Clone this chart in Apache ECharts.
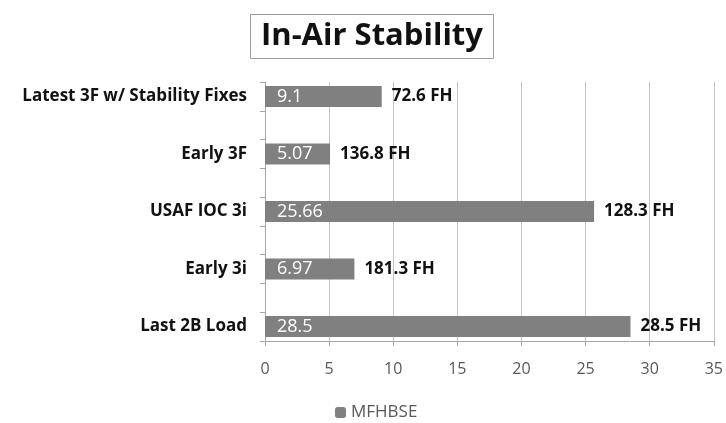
<!DOCTYPE html>
<html>
<head>
<meta charset="utf-8">
<script src="https://cdn.jsdelivr.net/npm/echarts@6/dist/echarts.min.js"></script>
<style>
  html, body { margin: 0; padding: 0; background: #fff; }
  #main { width: 726px; height: 423px; }
</style>
</head>
<body>
<div id="main"></div>
<script>
// bottom to top, as in the chart
const categories = ['Last 2B Load', 'Early 3i', 'USAF IOC 3i', 'Early 3F', 'Latest 3F w/ Stability Fixes'];
const mfhbse = [28.5, 6.97, 25.66, 5.07, 9.1];
const flightHours = ['28.5 FH', '181.3 FH', '128.3 FH', '136.8 FH', '72.6 FH'];
const xTicks = [0, 5, 10, 15, 20, 25, 30, 35];

// the source sheet has a blank row between each category
const rows = [], vals = [], fh = [];
categories.forEach((c, i) => {
    if (i > 0) { rows.push(''); vals.push(null); fh.push(''); }
    rows.push(c); vals.push(mfhbse[i]); fh.push(flightHours[i]);
});

const gray = '#808080';
const chart = echarts.init(document.getElementById('main'));
chart.setOption({
    animation: false,
    title: {
        text: 'In-Air Stability',
        left: 250,
        top: 14,
        padding: [7, 11, 7, 11],
        borderWidth: 1,
        borderColor: '#9a9a9a',
        textStyle: { fontFamily: 'Open Sans', fontWeight: 'bold', fontSize: 31, color: '#111' }
    },
    legend: {
        data: ['MFHBSE'],
        left: 330,
        top: 399,
        itemWidth: 11,
        itemHeight: 11,
        itemGap: 5,
        textStyle: { fontFamily: 'Open Sans', fontSize: 17, color: '#595959' }
    },
    grid: { left: 265, right: 10, top: 82, bottom: 82 },
    xAxis: {
        type: 'value',
        min: xTicks[0],
        max: xTicks[xTicks.length - 1],
        interval: 5,
        axisLine: { show: true, lineStyle: { color: '#a6a6a6' } },
        axisTick: { show: true, length: 5, lineStyle: { color: '#a6a6a6' } },
        splitLine: { lineStyle: { color: '#c4c4c4' } },
        axisLabel: { margin: 20, fontFamily: 'Open Sans', fontSize: 16, color: '#595959' }
    },
    yAxis: {
        type: 'category',
        data: rows,
        axisLine: { lineStyle: { color: '#a6a6a6' } },
        axisTick: { show: true, length: 5, interval: 0, lineStyle: { color: '#a6a6a6' } },
        axisLabel: {
            interval: 0, margin: 18,
            fontFamily: 'Open Sans', fontWeight: 'bold', fontSize: 17, color: '#111'
        }
    },
    series: [
        {
            name: 'MFHBSE',
            type: 'bar',
            data: vals,
            barWidth: 21,
            itemStyle: { color: gray },
            label: {
                show: true,
                position: 'insideLeft',
                distance: 12,
                fontFamily: 'Open Sans',
                fontSize: 18,
                color: '#fff'
            }
        },
        {
            name: 'FH',
            type: 'bar',
            data: vals,
            barWidth: 21,
            barGap: '-100%',
            silent: true,
            itemStyle: { color: 'transparent' },
            label: {
                show: true,
                position: 'right',
                distance: 10,
                fontFamily: 'Open Sans',
                fontWeight: 'bold',
                fontSize: 17,
                color: '#111',
                formatter: p => fh[p.dataIndex]
            }
        }
    ]
});
</script>
</body>
</html>
